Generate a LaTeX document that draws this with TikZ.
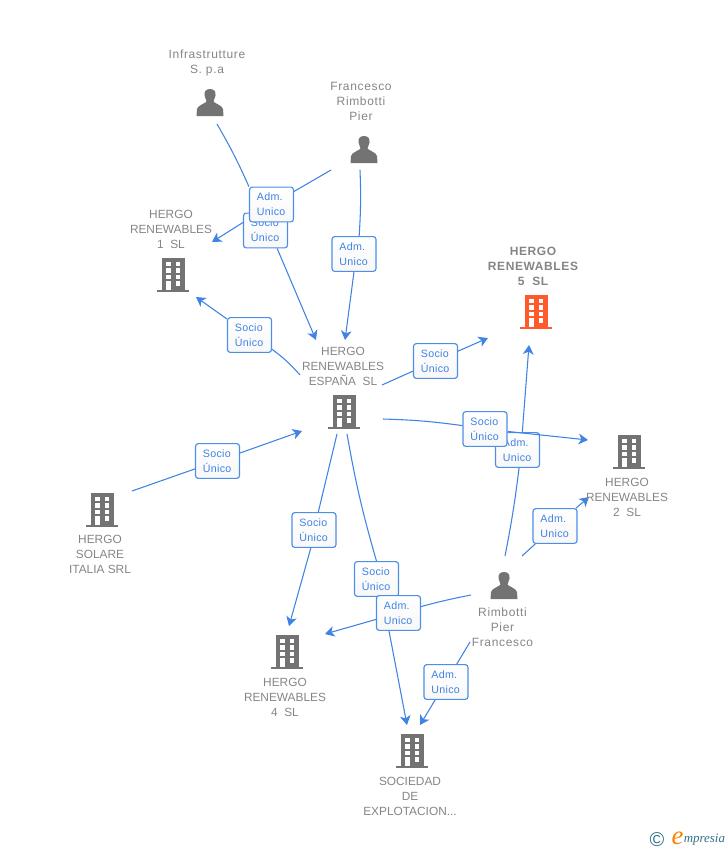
\documentclass[tikz,border=0pt]{standalone}
\usepackage{fontspec}
\setmainfont{Liberation Sans}
\newfontfamily\widefont[LetterSpace=5.5]{Liberation Sans}
\newfontfamily\tagfont[LetterSpace=3]{Liberation Sans}
\newfontfamily\hotfont[LetterSpace=5]{Liberation Sans}
\newfontfamily\logofont{Liberation Serif}
\usetikzlibrary{arrows.meta}
\pgfdeclarelayer{bg}\pgfdeclarelayer{low}\pgfdeclarelayer{mid}
\pgfsetlayers{bg,low,mid,main}
\definecolor{linkblue}{HTML}{3F83E4}
\definecolor{boxblue}{HTML}{4D8EE6}
\definecolor{icongray}{HTML}{737373}
\definecolor{textgray}{HTML}{858585}
\definecolor{hot}{HTML}{FF5A2B}
\definecolor{teal}{HTML}{2F7188}
\tikzset{
  x=0.75pt,y=-0.75pt,
  link/.style={draw=linkblue,line width=0.8pt},
  arrowlink/.style={link,-{Stealth[length=7pt,width=8pt,inset=2pt]}},
  tagbox/.style={draw=boxblue,line width=0.85pt,rounded corners=2pt,fill=white,top color=white,bottom color=black!3,
    text=linkblue,font=\tagfont\fontsize{8pt}{11.25pt}\selectfont,text width=22pt,inner xsep=5.5pt,inner ysep=0pt,
    minimum height=26pt,align=left},
  caption/.style={text=textgray,font=\fontsize{8.9pt}{11.25pt}\selectfont,align=center,inner sep=0pt},
  widecaption/.style={caption,font=\widefont\fontsize{9pt}{11.25pt}\selectfont},
  hotcaption/.style={caption,font=\hotfont\fontsize{9pt}{11.25pt}\selectfont\bfseries},
  building/.pic={
    \fill[pic actions] (-11.5,-17) rectangle (11.5,15);
    \fill[pic actions] (-16,15) rectangle (16,17);
    \foreach \r in {-13.5,-7,-0.5}{
      \fill[white] (-7,\r) rectangle (-2.3,\r+4.5);
      \fill[white] (2.5,\r) rectangle (7.3,\r+4.5);
    }
    \fill[white] (-7,6) rectangle (-2.3,15);
    \fill[white] (2.5,6) rectangle (7.3,10.5);
  },
  person/.pic={
    \fill[pic actions] (0,-13) .. controls (-4.5,-13) and (-6,-10) .. (-5.5,-6.5)
      .. controls (-5,-4) and (-4.5,-3) .. (-3.5,-0.5)
      .. controls (-4.5,1.5) and (-12,3) .. (-13,7)
      -- (-13.5,14) -- (13.5,14) -- (13,7)
      .. controls (12,3) and (4.5,1.5) .. (3.5,-0.5)
      .. controls (4.5,-3) and (5,-4) .. (5.5,-6.5)
      .. controls (6,-10) and (4.5,-13) .. (0,-13) -- cycle;
  }
}
\begin{document}
\begin{tikzpicture}
\useasboundingbox (0,0) rectangle (728,850);

% entity icons
\pic[fill=icongray] at (210,102) {person};
\pic[fill=icongray] at (364,149) {person};
\pic[fill=icongray] at (504,585) {person};
\pic[fill=icongray] at (173,275) {building};
\pic[fill=hot] at (536,312) {building};
\pic[fill=icongray] at (344,412) {building};
\pic[fill=icongray] at (629,452) {building};
\pic[fill=icongray] at (102,510) {building};
\pic[fill=icongray] at (287,652) {building};
\pic[fill=icongray] at (412,751) {building};

% entity captions
\node[widecaption] (infra) at (207,63) {Infrastrutture\\S. p.a};
\node[widecaption] (franc) at (361,101) {Francesco\\Rimbotti\\Pier};
\node[caption] (h1) at (171,229) {HERGO\\RENEWABLES\\1\ \ SL};
\node[hotcaption] (h5) at (533,266) {HERGO\\RENEWABLES\\5\ \ SL};
\node[caption] (esp) at (343,366) {HERGO\\RENEWABLES\\ESPAÑA\ \ SL};
\node[caption] (h2) at (627,497) {HERGO\\RENEWABLES\\2\ \ SL};
\node[caption] (ital) at (100,554) {HERGO\\SOLARE\\ITALIA SRL};
\node[caption] (h4) at (285,697) {HERGO\\RENEWABLES\\4\ \ SL};
\node[caption] (soc) at (410,796) {SOCIEDAD\\DE\\EXPLOTACION...};
\node[widecaption] (rimb) at (502.5,627) {Rimbotti\\Pier\\Francesco};

% tags
\node[tagbox] (t1) at (265.5,230.5) {Socio\\Único};
\node[tagbox] (t2) at (271.5,204.5) {Adm.\\Unico};
\node[tagbox] (t3) at (354,254) {Adm.\\Unico};
\node[tagbox] (t4) at (249.5,335) {Socio\\Único};
\node[tagbox] (t5) at (435.5,361) {Socio\\Único};
\begin{pgfonlayer}{low}
\node[tagbox] (t6) at (517.5,450) {Adm.\\Unico};
\end{pgfonlayer}
\node[tagbox] (t7) at (485,429) {Socio\\Único};
\node[tagbox] (t8) at (555,526) {Adm.\\Unico};
\node[tagbox] (t9) at (217.5,461) {Socio\\Único};
\node[tagbox] (t10) at (314,530) {Socio\\Único};
\node[tagbox] (t11) at (376.5,579) {Socio\\Único};
\node[tagbox] (t12) at (398.5,613) {Adm.\\Unico};
\node[tagbox] (t13) at (446,682) {Adm.\\Unico};

% free ends
\coordinate (a1s) at (217,124);  \coordinate (a1e) at (316,340);
\coordinate (a2s) at (331,170);  \coordinate (a2e) at (212,242);
\coordinate (a3s) at (360,170);  \coordinate (a3e) at (345,340);
\coordinate (a4s) at (300,375);  \coordinate (a4e) at (196,297);
\coordinate (a5s) at (382,385);  \coordinate (a5e) at (488,338);
\coordinate (a6s) at (505,556);  \coordinate (a6e) at (529,345);
\coordinate (a7s) at (383,419);  \coordinate (a7e) at (588,440);
\coordinate (a8s) at (522,556);  \coordinate (a8e) at (589,497);
\coordinate (a9s) at (132,491);  \coordinate (a9e) at (302,431);
\coordinate (a10s) at (337,434); \coordinate (a10e) at (289,626);
\coordinate (a11s) at (347,434); \coordinate (a11e) at (407,725);
\coordinate (a12s) at (471,595); \coordinate (a12e) at (325,634);
\coordinate (a13s) at (470,642); \coordinate (a13e) at (420,725);

% connectors
\begin{pgfonlayer}{bg}
\draw[link] (a1s) to[bend left=3] (t2.north west);
\draw[arrowlink] (t1.-57) -- (a1e);
\draw[link] (a2s) -- (t2);
\draw[arrowlink] (t2) -- (a2e);
\draw[link] (a3s) to[bend left=3] (t3.74);
\draw[arrowlink] (t3.-90) -- (a3e);
\draw[link] (a4s) to[bend right=6] (t4);
\draw[arrowlink] (t4) -- (a4e);
\draw[link] (a5s) -- (t5);
\draw[arrowlink] (t5) -- (a5e);
\draw[link] (a6s) to[bend right=2] (t6.-85);
\draw[arrowlink] (t6.75) -- (a6e);
\draw[link] (a7s) to[bend left=3] (t7);
\draw[link] (a8s) -- (t8);
\draw[arrowlink] (t8) -- (a8e);
\draw[link] (a9s) -- (t9);
\draw[arrowlink] (t9) -- (a9e);
\draw[link] (a10s) -- (t10);
\draw[arrowlink] (t10.-100) -- (a10e);
\draw[link] (a11s) to[bend right=3] (t11.90);
\draw[arrowlink] (t12.-118) -- (a11e);
\draw[link] (a12s) to[bend right=2] (t12);
\draw[arrowlink] (t12) -- (a12e);
\draw[link] (a13s) -- (t13);
\draw[arrowlink] (t13) -- (a13e);
\end{pgfonlayer}
\begin{pgfonlayer}{mid}
\draw[arrowlink] (t7) -- (a7e);
\end{pgfonlayer}

% logo
\node[text=teal,font=\fontsize{15pt}{15pt}\selectfont,inner sep=0pt] (copy) at (657,840) {©};
\node[text=orange,font=\logofont\itshape\fontsize{20pt}{20pt}\selectfont,inner sep=0pt] (loge) at (677.5,838) {e};
\node[text=teal,font=\logofont\itshape\fontsize{9.7pt}{10pt}\selectfont,inner sep=0pt,anchor=west] (logt) at (683.5,840) {mpresia};
\end{tikzpicture}
\end{document}
